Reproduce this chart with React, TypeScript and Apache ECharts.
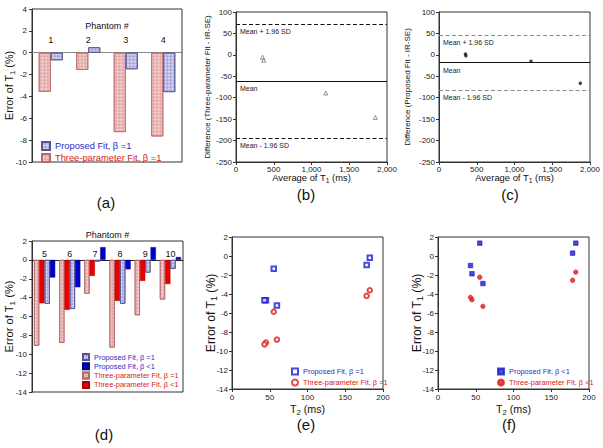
import React, { useEffect, useRef } from "react";
import * as echarts from "echarts";

const FONT = "'Liberation Sans', Arial, sans-serif";

// ---------- Panel (a): phantoms 1-4, error of T1 (%) ----------
const phantomsA = ["1", "2", "3", "4"];
const threeB1_A = [-3.58, -1.57, -7.26, -7.66];
const propB1_A = [-0.69, 0.5, -1.51, -3.6];
const yRangeA = [-10, 4];

// ---------- Panel (b): Bland-Altman, three-parameter fit ----------
const avgT1_B = [352, 366, 1190, 1846];
const diffThree_B = [-5.5, -12.5, -89, -146];
const limitsB = [72, -61, -194]; // mean+1.96SD, mean, mean-1.96SD

// ---------- Panel (c): Bland-Altman, proposed fit ----------
const avgT1_C = [350, 356, 1218, 1872];
const diffProp_C = [2, -2, -15, -66.5];
const limitsC = [46, -18, -82];

const limitLabels = ["Mean + 1.96 SD", "Mean", "Mean - 1.96 SD"];

// ---------- Panel (d): phantoms 5-10 ----------
const phantomsD = ["5", "6", "7", "8", "9", "10"];
const threeB1_D = [-9.1, -8.8, -3.6, -9.3, -5.87, -4.2];
const threeBlt1_D = [-4.6, -5.3, -1.7, -4.35, -2.23, -2.56];
const propB1_D = [-4.66, -5.2, -0.18, -4.65, -1.35, -0.95];
const propBlt1_D = [-1.87, -2.9, 1.35, -1.0, 1.35, 0.3];
const yRangeD = [-14, 2];

// ---------- Panels (e), (f): T2 of phantoms 5-10 (ms) ----------
const t2D = [45, 59.5, 182.5, 43, 55.3, 178.3];

const N_PROP1 = "Proposed Fit, β =1";
const N_PROPL = "Proposed Fit, β <1";
const N_THREE1 = "Three-parameter Fit, β =1";
const N_THREEL = "Three-parameter Fit, β <1";

const BLUE_TXT = "#2b2bc4";
const RED_TXT = "#d42222";

const hatch = (bg: string, fg: string, border: string) => ({
  color: bg,
  borderColor: border,
  borderWidth: 0.8,
  decal: {
    symbol: "rect",
    symbolSize: 1,
    color: fg,
    dashArrayX: [
      [1, 1],
      [0, 1, 1, 0],
    ],
    dashArrayY: [1, 0],
    rotation: Math.PI / 4,
  },
});
const hatchRed = hatch("#f7e0e0", "rgba(215,120,120,0.75)", "#b76a6a");
const hatchBlue = hatch("#ebebf9", "rgba(110,110,200,0.75)", "#55558f");
const solidRed = { color: "#e60000", borderColor: "#b00000", borderWidth: 0.5 };
const solidBlue = { color: "#0000cc", borderColor: "#00007a", borderWidth: 0.5 };

const nameStyle = (fs: number) => ({
  fontSize: fs,
  color: "#111",
  fontFamily: FONT,
  rich: {
    s: { fontSize: fs * 0.72, padding: [Math.round(fs * 0.6), 0, 0, 0], color: "#111", fontFamily: FONT },
  },
});

const gridBox = (left: number, top: number, width: number, height: number) => ({
  left,
  top,
  width,
  height,
  containLabel: false,
  outerBoundsMode: "none",
  show: true,
  borderColor: "#333",
  borderWidth: 1,
  backgroundColor: "transparent",
});

const valAxis = (o: any) => ({
  type: "value",
  axisLine: { show: true, onZero: false, lineStyle: { color: "#333", width: 1 } },
  axisTick: { show: true, inside: false, length: 3, lineStyle: { color: "#333" } },
  axisLabel: { fontSize: 8, color: "#222", fontFamily: FONT, margin: 4 },
  splitLine: { show: false },
  nameLocation: "middle",
  nameMoveOverlap: false,
  ...o,
});

// category axis drawn along the zero line, labels above it
const phantomAxis = (cats: string[], gridH: number, range: number[], fs: number, margin: number, nameGap: number, lineColor: string) => ({
  type: "category",
  data: cats,
  position: "top",
  offset: -(gridH * range[1]) / (range[1] - range[0]),
  axisLine: { show: true, onZero: false, lineStyle: { color: lineColor, width: 1 } },
  axisTick: { show: false },
  axisLabel: { fontSize: fs, color: "#111", margin },
  name: "Phantom #",
  nameLocation: "middle",
  nameGap,
  nameMoveOverlap: false,
  nameTextStyle: { fontSize: fs, color: "#111" },
});

const panelLabel = (text: string, x: number, y: number) => ({
  type: "text",
  x,
  y,
  style: {
    text,
    fontSize: 15,
    fontFamily: FONT,
    fill: "#111",
    align: "center",
    textAlign: "center",
    verticalAlign: "middle",
    textVerticalAlign: "middle",
  },
});

// ---------- options ----------
const optA = {
  animation: false,
  textStyle: { fontFamily: FONT },
  grid: gridBox(32, 9, 150, 153),
  xAxis: phantomAxis(phantomsA, 153, yRangeA, 9, 8, 22, "#8a8a8a"),
  yAxis: valAxis({
    min: yRangeA[0],
    max: yRangeA[1],
    interval: 2,
    axisLabel: { fontSize: 8, color: "#222", margin: 5 },
    name: "Error of T{s|1} (%)",
    nameGap: 16,
    nameTextStyle: nameStyle(10.7),
  }),
  legend: {
    orient: "vertical",
    left: 36,
    top: 136,
    itemWidth: 8,
    itemHeight: 8,
    itemGap: 2,
    icon: "rect",
    selectedMode: false,
    textStyle: { fontSize: 9.3, fontFamily: FONT },
    data: [
      { name: N_PROP1, textStyle: { color: BLUE_TXT } },
      { name: N_THREE1, textStyle: { color: RED_TXT } },
    ],
  },
  series: [
    { name: N_THREE1, type: "bar", data: threeB1_A, barWidth: 12, barGap: "0%", itemStyle: hatchRed },
    { name: N_PROP1, type: "bar", data: propB1_A, barWidth: 12, barGap: "0%", itemStyle: hatchBlue },
  ],
  graphic: [panelLabel("(a)", 106, 202)],
};

const blandAltman = (
  xs: number[],
  ys: number[],
  limits: number[],
  yName: string,
  left: number,
  nameGap: number,
  dashColor: string,
  symbol: string,
  symbolSize: number,
  itemStyle: any,
  label: string,
  lx: number
) => ({
  animation: false,
  textStyle: { fontFamily: FONT },
  grid: gridBox(left, 12, 151, 150),
  xAxis: valAxis({
    min: 0,
    max: 2000,
    interval: 500,
    axisLabel: { fontSize: 8, color: "#222", margin: 3 },
    name: "Average of T{s|1} (ms)",
    nameGap: 9,
    nameTextStyle: nameStyle(9.4),
  }),
  yAxis: valAxis({
    min: -250,
    max: 100,
    interval: 50,
    name: yName,
    nameGap,
    nameTextStyle: { fontSize: 8, color: "#111" },
  }),
  series: [
    {
      type: "scatter",
      data: xs.map((x, i) => [x, ys[i]]),
      symbol,
      symbolSize,
      itemStyle,
      markLine: {
        silent: true,
        symbol: "none",
        animation: false,
        label: { position: "insideStartBottom", fontSize: 7, color: "#222", distance: 4 },
        data: limits.map((v, i) => ({
          yAxis: v,
          label: { formatter: limitLabels[i] },
          lineStyle:
            i === 1
              ? { type: "solid", color: "#111", width: 1 }
              : { type: [4, 2.5], color: dashColor, width: 1.1 },
        })),
      },
    },
  ],
  graphic: [panelLabel(label, lx, 194)],
});

const optB = blandAltman(
  avgT1_B,
  diffThree_B,
  limitsB,
  "Difference (Three-parameter Fit - IR-SE)",
  36,
  25,
  "#111",
  "triangle",
  4,
  { color: "#fff", borderColor: "#222", borderWidth: 0.6 },
  "(b)",
  106
);
const optC = blandAltman(
  avgT1_C,
  diffProp_C,
  limitsC,
  "Difference (Proposed Fit - IR-SE)",
  39,
  28,
  "#8c8c8c",
  "circle",
  3.5,
  { color: "#111" },
  "(c)",
  110
);

const optD = {
  animation: false,
  textStyle: { fontFamily: FONT },
  grid: gridBox(32, 17, 151, 151),
  xAxis: phantomAxis(phantomsD, 151, yRangeD, 9, 1, 20, "#222"),
  yAxis: valAxis({
    min: yRangeD[0],
    max: yRangeD[1],
    interval: 2,
    axisLabel: { fontSize: 8, color: "#222", margin: 5 },
    name: "Error of T{s|1} (%)",
    nameGap: 16,
    nameTextStyle: nameStyle(11.2),
  }),
  legend: {
    orient: "vertical",
    left: 77,
    top: 124,
    itemWidth: 6,
    itemHeight: 6,
    itemGap: 1.3,
    icon: "rect",
    selectedMode: false,
    textStyle: { fontSize: 7.4, fontFamily: FONT },
    data: [
      { name: N_PROP1, textStyle: { color: BLUE_TXT } },
      { name: N_PROPL, textStyle: { color: BLUE_TXT } },
      { name: N_THREE1, textStyle: { color: RED_TXT } },
      { name: N_THREEL, textStyle: { color: RED_TXT } },
    ],
  },
  series: [
    { name: N_THREE1, type: "bar", data: threeB1_D, barWidth: 5.3, barGap: "0%", itemStyle: hatchRed },
    { name: N_THREEL, type: "bar", data: threeBlt1_D, barWidth: 5.3, barGap: "0%", itemStyle: solidRed },
    { name: N_PROP1, type: "bar", data: propB1_D, barWidth: 5.3, barGap: "0%", itemStyle: hatchBlue },
    { name: N_PROPL, type: "bar", data: propBlt1_D, barWidth: 5.3, barGap: "0%", itemStyle: solidBlue },
  ],
  graphic: [panelLabel("(d)", 104, 210)],
};

const t2Panel = (
  left: number,
  blueName: string,
  blueVals: number[],
  blueSym: string,
  redName: string,
  redVals: number[],
  redSym: string,
  legLeft: number,
  label: string,
  lx: number
) => ({
  animation: false,
  textStyle: { fontFamily: FONT },
  grid: gridBox(left, 13, 151, 152),
  xAxis: valAxis({
    min: 0,
    max: 200,
    interval: 50,
    axisLabel: { fontSize: 8, color: "#222", margin: 4 },
    name: "T{s|2} (ms)",
    nameGap: 13,
    nameTextStyle: nameStyle(10.7),
  }),
  yAxis: valAxis({
    min: -14,
    max: 2,
    interval: 2,
    name: "Error of T{s|1} (%)",
    nameGap: 13.5,
    nameTextStyle: nameStyle(12.2),
  }),
  legend: {
    orient: "vertical",
    left: legLeft,
    top: 138.5,
    itemWidth: 6,
    itemHeight: 6,
    itemGap: 3,
    selectedMode: false,
    textStyle: { fontSize: 7.4, fontFamily: FONT },
    data: [
      { name: blueName, textStyle: { color: BLUE_TXT } },
      { name: redName, textStyle: { color: RED_TXT } },
    ],
  },
  series: [
    {
      name: blueName,
      type: "scatter",
      data: t2D.map((x, i) => [x, blueVals[i]]),
      symbol: blueSym,
      symbolSize: 4.5,
      itemStyle: { color: "#1a1ad0", borderColor: "#1a1ad0", borderWidth: 0.8 },
    },
    {
      name: redName,
      type: "scatter",
      data: t2D.map((x, i) => [x, redVals[i]]),
      symbol: redSym,
      symbolSize: 4.5,
      itemStyle: { color: "#dd1a1a", borderColor: "#dd1a1a", borderWidth: 0.8 },
    },
  ],
  graphic: [panelLabel(label, lx, 200)],
});

const optE = t2Panel(32, N_PROP1, propB1_D, "emptyRect", N_THREE1, threeB1_D, "emptyCircle", 86, "(e)", 106);
const optF = t2Panel(38, N_PROPL, propBlt1_D, "rect", N_THREEL, threeBlt1_D, "circle", 92, "(f)", 109);

function Panel({ option, box }: { option: any; box: number[] }) {
  const ref = useRef<HTMLDivElement>(null);
  useEffect(() => {
    const chart = echarts.init(ref.current as HTMLDivElement, undefined, { renderer: "svg" });
    chart.setOption(option);
    return () => chart.dispose();
  }, [option]);
  return (
    <div
      ref={ref}
      style={{ position: "absolute", left: box[0], top: box[1], width: box[2], height: box[3] }}
    />
  );
}

export default function App() {
  return (
    <div
      style={{
        position: "absolute",
        left: 0,
        top: 0,
        width: 603,
        height: 448,
        background: "#fff",
        overflow: "hidden",
      }}
    >
      <Panel option={optA} box={[0, 0, 200, 224]} />
      <Panel option={optB} box={[200, 0, 200, 224]} />
      <Panel option={optC} box={[400, 0, 203, 224]} />
      <Panel option={optD} box={[0, 224, 200, 224]} />
      <Panel option={optE} box={[200, 224, 200, 224]} />
      <Panel option={optF} box={[400, 224, 203, 224]} />
    </div>
  );
}
